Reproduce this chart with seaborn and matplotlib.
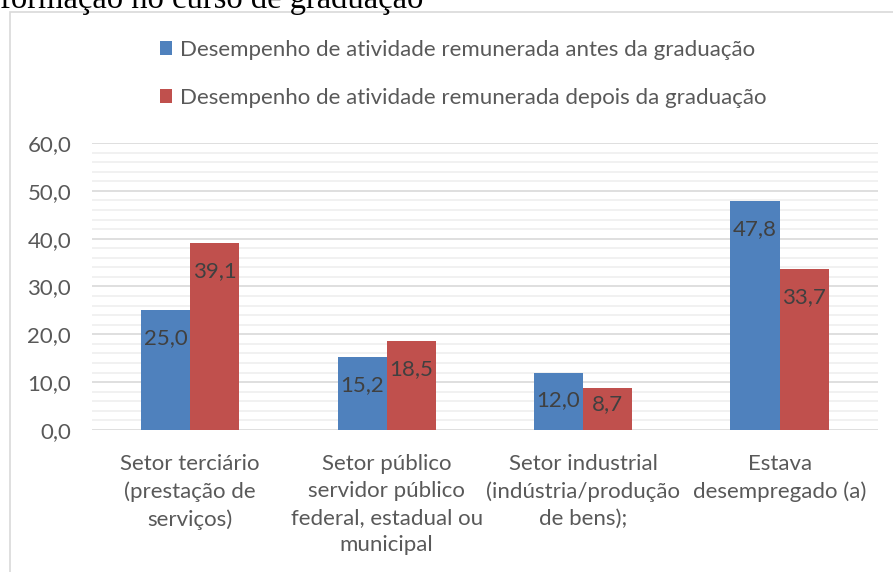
import numpy as np
import pandas as pd
import matplotlib
matplotlib.use("Agg")
import matplotlib.pyplot as plt
import seaborn as sns
from matplotlib.patches import Rectangle
from matplotlib.ticker import MultipleLocator

# dados
categorias = ["Setor terciário\n(prestação de\nserviços)",
              "Setor público\nservidor público\nfederal, estadual ou\nmunicipal",
              "Setor industrial\n(indústria/produção\nde bens);",
              "Estava\ndesempregado (a)"]
series = ["Desempenho de atividade remunerada antes da graduação",
          "Desempenho de atividade remunerada depois da graduação"]
antes = [25.0, 15.2, 12.0, 47.8]
depois = [39.1, 18.5, 8.7, 33.7]
cores = ["#4F81BD", "#C0504D"]
titulo = "formação no curso de graduação"

df = pd.DataFrame({
    "categoria": categorias * 2,
    "serie": [series[0]] * 4 + [series[1]] * 4,
    "valor": antes + depois,
})

sns.set_theme(style="white")
plt.rcParams["font.family"] = ["Lato", "DejaVu Sans"]
fs = 16

fig = plt.figure(figsize=(8.93, 5.72), dpi=100)
ax = fig.add_axes([0.103, 0.2483, 0.88, 0.5017])

sns.barplot(data=df, x="categoria", y="valor", hue="serie", palette=cores,
            width=0.5, linewidth=0, saturation=1, ax=ax)

ax.set_ylim(0, 60)
ax.yaxis.set_major_locator(MultipleLocator(10))
ax.yaxis.set_minor_locator(MultipleLocator(2))
ax.set_yticks(np.arange(0, 61, 10))
ax.set_yticklabels([f"{v:.1f}".replace(".", ",") for v in np.arange(0, 61, 10)])
ax.grid(axis="y", which="major", color="#d9d9d9", lw=1.2, zorder=0)
ax.grid(axis="y", which="minor", color="#efefef", lw=1.2, zorder=0)
ax.set_axisbelow(True)
for s in ["top", "right", "left", "bottom"]:
    ax.spines[s].set_visible(False)
ax.tick_params(axis="y", which="both", length=0, pad=15, labelsize=fs, labelcolor="#595959")
ax.tick_params(axis="x", length=0, pad=17, labelsize=fs, labelcolor="#595959")
for t in ax.get_xticklabels():
    t.set_linespacing(1.45)
ax.set_xlabel("")
ax.set_ylabel("")

# rotulos de dados dentro das barras
ax_h = ax.get_window_extent().height
for cont in ax.containers:
    for p in cont:
        h = p.get_height()
        bar_px = h / 60 * ax_h
        off = min(28, bar_px - 26)
        ax.annotate(f"{h:.1f}".replace(".", ","),
                    (p.get_x() + p.get_width() / 2, h),
                    xytext=(0, -off), textcoords="offset pixels",
                    ha="center", va="center", fontsize=fs, color="#404040")

handles, labels = ax.get_legend_handles_labels()
ax.legend(handles, labels, loc="upper left", bbox_to_anchor=(160 / 893, 1 - 40 / 572),
          bbox_transform=fig.transFigure, frameon=False, fontsize=fs,
          labelcolor="#595959", handlelength=0.55, handleheight=0.55,
          handletextpad=0.35, labelspacing=1.25, borderpad=0, borderaxespad=0)

# moldura do grafico
fig.patches.append(Rectangle((10 / 893, -0.1), 1.0, 1 - 12 / 572 + 0.1,
                             transform=fig.transFigure, fill=False,
                             edgecolor="#d9d9d9", lw=1.2))
fig.text(0.0, 1 - 8 / 572, titulo, family="Liberation Serif", fontsize=23.5,
         ha="left", va="baseline", color="black")

fig.savefig("out.png", dpi=100)
